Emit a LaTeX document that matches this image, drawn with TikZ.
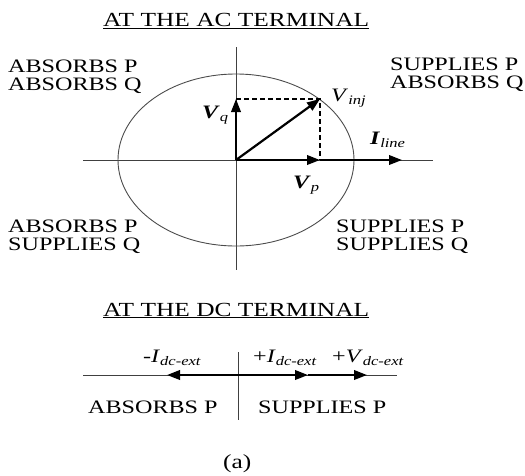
\documentclass[tikz,border=0pt]{standalone}
\usepackage{fontspec}
\setmainfont{Liberation Serif}[FakeStretch=1.27]
\usetikzlibrary{arrows.meta}
\newcommand\lsub[1]{\raisebox{-0.4ex}{\fontsize{13}{13}\selectfont\itshape #1}}
\begin{document}
\begin{tikzpicture}[x=1pt,y=-1pt,
  lbl/.style={inner sep=0pt, anchor=base west, font=\fontsize{19}{19}\selectfont},
  pair/.style={inner sep=0pt, anchor=north west, align=left, font=\fontsize{19}{17.5}\selectfont},
  ttl/.style={inner sep=0pt, anchor=base west, font=\fontsize{20}{20}\selectfont},
  vec/.style={line width=2.2pt, -{Triangle[length=13pt,width=9.5pt]}},
  axis/.style={line width=0.9pt, draw=black!75},
  proj/.style={line width=1.3pt, dash pattern=on 5pt off 3pt}]
\useasboundingbox (0,0) rectangle (525,475);
% titles
\node[ttl] (tac) at (103,26.5) {\underline{AT THE AC TERMINAL}};
\node[ttl] (tdc) at (103,316) {\underline{AT THE DC TERMINAL}};
% AC diagram
\coordinate (O) at (236,160);
\coordinate (axT) at (236,47);
\coordinate (axB) at (236,270);
\coordinate (axL) at (83,160);
\coordinate (axR) at (433,160);
\coordinate (q) at (236,99);
\coordinate (inj) at (320,99);
\coordinate (p) at (320,160);
\coordinate (il) at (402,160);
\draw[axis] (axT) -- (axB);
\draw[axis] (axL) -- (axR);
\draw[draw=black!70, line width=0.9pt] (O) ellipse [x radius=118pt, y radius=86pt];
\draw[proj] (q) -- (inj) -- (p);
\draw[vec] (O) -- (q);
\draw[vec] (O) -- (inj);
\draw[vec] (O) -- (p);
\draw[vec] (p) -- (il);
\node[lbl] (lvq) at (202,118) {\textbf{\textit{V}}\lsub{q}};
\node[lbl] (lvinj) at (331,101) {\textit{V}\lsub{inj}};
\node[lbl] (lil) at (370,144) {\textbf{\textit{I}}\lsub{line}};
\node[lbl] (lvp) at (293,188) {\textbf{\textit{V}}\lsub{p}};
% quadrant labels
\node[pair] (q2) at (8,60.2) {ABSORBS P\\ABSORBS Q};
\node[pair] (q1) at (390,58.2) {SUPPLIES P\\ABSORBS Q};
\node[pair] (q3) at (8,220.2) {ABSORBS P\\SUPPLIES Q};
\node[pair] (q4) at (336,220.2) {SUPPLIES P\\SUPPLIES Q};
% DC diagram
\coordinate (D) at (238,375);
\coordinate (dT) at (238,352);
\coordinate (dB) at (238,420);
\coordinate (dL) at (83,375);
\coordinate (dR) at (397,375);
\coordinate (im) at (167,375);
\coordinate (ip) at (308,375);
\coordinate (vp) at (367,375);
\draw[axis] (dL) -- (dR);
\draw[axis] (dT) -- (dB);
\draw[vec] (D) -- (im);
\draw[vec] (D) -- (ip);
\draw[vec] (ip) -- (vp);
\node[lbl] (lim) at (143,362) {-\textit{I}\lsub{dc-ext}};
\node[lbl] (lip) at (253,362) {+\textit{I}\lsub{dc-ext}};
\node[lbl] (lvdc) at (332,362) {+\textit{V}\lsub{dc-ext}};
\node[lbl] (dabs) at (88,413) {ABSORBS P};
\node[lbl] (dsup) at (258,413) {SUPPLIES P};
\node[ttl] (cap) at (223,468) {(a)};
\end{tikzpicture}
\end{document}
